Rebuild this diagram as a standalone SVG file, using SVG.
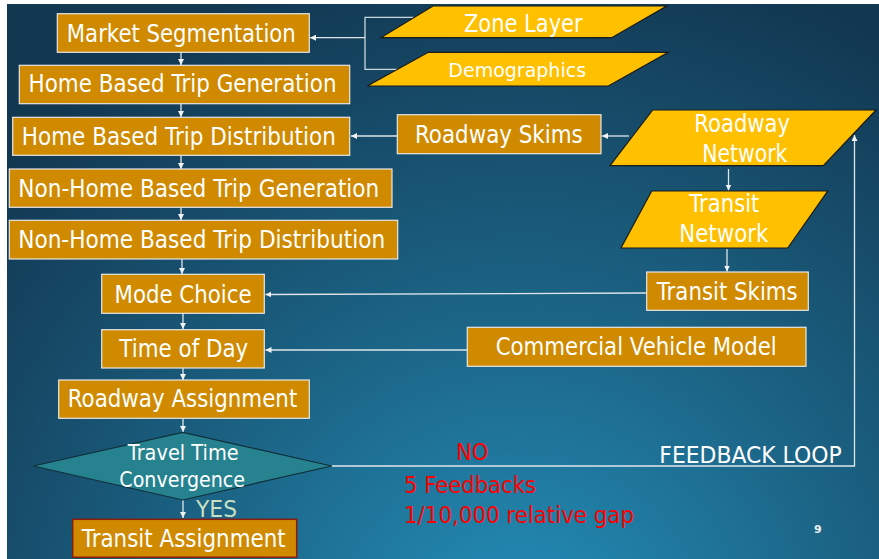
<svg xmlns="http://www.w3.org/2000/svg" width="879" height="559" viewBox="0 0 879 559">
<defs>
<radialGradient id="bg" gradientUnits="userSpaceOnUse" cx="520" cy="640" r="700">
<stop offset="0" stop-color="#2490bb"/>
<stop offset="0.45" stop-color="#1c6688"/>
<stop offset="1" stop-color="#123751"/>
</radialGradient>
<marker id="ah" viewBox="0 0 6 6" refX="6" refY="3" markerWidth="6" markerHeight="6" markerUnits="userSpaceOnUse" orient="auto">
<path d="M0,0 L6,3 L0,6 z" fill="#f2f2f2"/>
</marker>
</defs>
<style>
.box{fill:#cf8a00;stroke:#e6e6e6;stroke-width:1.2}
.para{fill:#ffc000;stroke:#1a1a1a;stroke-width:1.2}
.t{font-family:"DejaVu Sans","Liberation Sans",sans-serif;font-size:24px;fill:#ffffff;text-anchor:middle}
.s{font-size:20px}
.c{stroke:#c9d6de;stroke-width:1.3;fill:none}
.ca{stroke:#dfe6ea;stroke-width:1.3;fill:none;marker-end:url(#ah)}
.red{font-family:"DejaVu Sans","Liberation Sans",sans-serif;font-size:23px;fill:#ff0000}
</style>
<rect x="0" y="0" width="879" height="559" fill="#ffffff"/>
<rect x="7" y="4" width="872" height="555" fill="url(#bg)"/>

<g id="connectors">
<line class="ca" x1="181" y1="52" x2="181" y2="65"/>
<line class="ca" x1="181" y1="104" x2="181" y2="117"/>
<line class="ca" x1="181" y1="155" x2="181" y2="169"/>
<line class="ca" x1="181" y1="207" x2="181" y2="220"/>
<line class="ca" x1="182" y1="259" x2="182" y2="274"/>
<line class="ca" x1="183" y1="313" x2="183" y2="329"/>
<line class="ca" x1="183" y1="368" x2="183" y2="380"/>
<line class="ca" x1="183" y1="418" x2="183" y2="432"/>
<line class="ca" x1="183" y1="500" x2="183" y2="518"/>
<polyline class="c" points="414,17.3 365,17.3 365,69.3 397.5,69.3"/>
<line class="ca" x1="365" y1="37.7" x2="310" y2="37.7"/>
<line class="ca" x1="397" y1="136" x2="351" y2="136"/>
<line class="ca" x1="629" y1="136" x2="602" y2="136"/>
<line class="ca" x1="728.5" y1="169" x2="728.5" y2="190.5"/>
<line class="ca" x1="727" y1="249" x2="727" y2="271.5"/>
<line class="ca" x1="646" y1="293" x2="265.5" y2="294.5"/>
<line class="ca" x1="467" y1="350" x2="265.5" y2="350"/>
<polyline class="ca" points="331.7,466 854.5,466 854.5,135"/>
</g>

<g id="market-segmentation"><rect class="box" x="57.3" y="13.7" width="252" height="38.6"/><text class="t" x="181.3" y="41.5" textLength="229" lengthAdjust="spacingAndGlyphs">Market Segmentation</text></g>
<g id="hb-trip-generation"><rect class="box" x="19.3" y="65.3" width="330.4" height="38.4"/><text class="t" x="182.5" y="92.3" textLength="308" lengthAdjust="spacingAndGlyphs">Home Based Trip Generation</text></g>
<g id="hb-trip-distribution"><rect class="box" x="12.7" y="117.3" width="337" height="38"/><text class="t" x="178.8" y="145" textLength="314" lengthAdjust="spacingAndGlyphs">Home Based Trip Distribution</text></g>
<g id="nhb-trip-generation"><rect class="box" x="9.3" y="169" width="382.7" height="38.3"/><text class="t" x="198.8" y="196.7" textLength="361" lengthAdjust="spacingAndGlyphs">Non-Home Based Trip Generation</text></g>
<g id="nhb-trip-distribution"><rect class="box" x="9.3" y="220.3" width="388.4" height="38.7"/><text class="t" x="201.7" y="248.3" textLength="367" lengthAdjust="spacingAndGlyphs">Non-Home Based Trip Distribution</text></g>
<g id="mode-choice"><rect class="box" x="101.7" y="274.3" width="162.6" height="39"/><text class="t" x="183" y="303.3" textLength="137" lengthAdjust="spacingAndGlyphs">Mode Choice</text></g>
<g id="time-of-day"><rect class="box" x="101.7" y="329.7" width="162.6" height="38.3"/><text class="t" x="183.8" y="357.3" textLength="129" lengthAdjust="spacingAndGlyphs">Time of Day</text></g>
<g id="roadway-assignment"><rect class="box" x="58.7" y="380" width="250.6" height="38.3"/><text class="t" x="182.5" y="407.3" textLength="229.6" lengthAdjust="spacingAndGlyphs">Roadway Assignment</text></g>
<g id="travel-time-convergence"><polygon points="33.3,466 182.7,432.3 331.7,466 182.7,500" fill="#26828f" stroke="#10303a" stroke-width="1.2"/><text class="t" style="font-size:21px" x="183.2" y="460" textLength="111" lengthAdjust="spacingAndGlyphs">Travel Time</text><text class="t" style="font-size:21px" x="182.2" y="487.3" textLength="125.7" lengthAdjust="spacingAndGlyphs">Convergence</text></g>
<g id="transit-assignment"><rect x="72.7" y="519.3" width="224" height="38" fill="#cf8a00" stroke="#8a1c10" stroke-width="1.5"/><text class="t" x="183.7" y="546.7" textLength="204" lengthAdjust="spacingAndGlyphs">Transit Assignment</text></g>

<g id="zone-layer"><polygon class="para" points="380.7,37.7 433,6 666.7,6 611.7,37.7"/><text class="t" x="523.3" y="31.7" textLength="118.7" lengthAdjust="spacingAndGlyphs">Zone Layer</text></g>
<g id="demographics"><polygon class="para" points="367.3,86 428.3,52.3 668.3,52.3 608.3,86"/><text class="t s" x="517.2" y="76.7" textLength="137.7" lengthAdjust="spacingAndGlyphs">Demographics</text></g>
<g id="roadway-skims"><rect class="box" x="397.3" y="114.7" width="203.7" height="39"/><text class="t" x="498.8" y="143.3" textLength="167.7" lengthAdjust="spacingAndGlyphs">Roadway Skims</text></g>
<g id="roadway-network"><polygon class="para" points="610,165.7 652.7,110 876,110 823.3,165.7"/><text class="t" x="742.2" y="131.7" textLength="95.7" lengthAdjust="spacingAndGlyphs">Roadway</text><text class="t" x="744.8" y="161.7" textLength="85" lengthAdjust="spacingAndGlyphs">Network</text></g>
<g id="transit-network"><polygon class="para" points="621,248 651.7,191 827.7,191 787.7,248"/><text class="t" x="724.3" y="212.3" textLength="70" lengthAdjust="spacingAndGlyphs">Transit</text><text class="t" x="723.8" y="242.3" textLength="89" lengthAdjust="spacingAndGlyphs">Network</text></g>
<g id="transit-skims"><rect class="box" x="646.7" y="272" width="161.6" height="38.3"/><text class="t" x="727.2" y="300" textLength="141" lengthAdjust="spacingAndGlyphs">Transit Skims</text></g>
<g id="commercial-vehicle-model"><rect class="box" x="467.3" y="327.3" width="338.7" height="39"/><text class="t" x="636.2" y="355" textLength="281" lengthAdjust="spacingAndGlyphs">Commercial Vehicle Model</text></g>

<g id="labels">
<text x="196" y="516.7" font-family="DejaVu Sans, Liberation Sans, sans-serif" font-size="23" fill="#c7dfc2" textLength="41" lengthAdjust="spacingAndGlyphs">YES</text>
<text class="red" x="456" y="460" textLength="32.3" lengthAdjust="spacingAndGlyphs">NO</text>
<text x="659.3" y="462.7" font-family="DejaVu Sans, Liberation Sans, sans-serif" font-size="23" fill="#ffffff" textLength="182.4" lengthAdjust="spacingAndGlyphs">FEEDBACK LOOP</text>
<text class="red" x="404" y="493.3" textLength="132" lengthAdjust="spacingAndGlyphs">5 Feedbacks</text>
<text class="red" x="404" y="523.3" textLength="230" lengthAdjust="spacingAndGlyphs">1/10,000 relative gap</text>
<text x="814" y="533" font-family="DejaVu Sans, Liberation Sans, sans-serif" font-size="11" font-weight="bold" fill="#e8eef2">9</text>
</g>
</svg>
